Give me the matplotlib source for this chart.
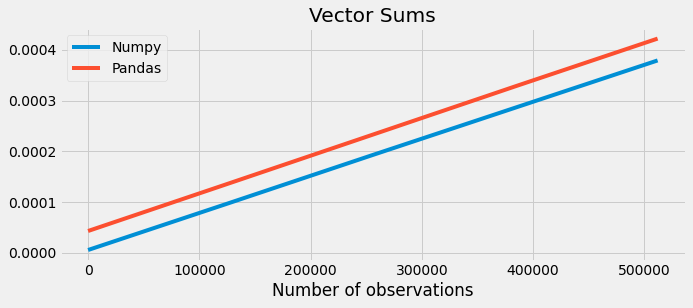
import matplotlib
matplotlib.use('Agg')
import matplotlib.pyplot as plt

# timings (seconds)
n_obs = [0, 128000, 256000, 384000, 512000]
numpy_times = [0.0000059, 0.0000992, 0.000193, 0.000286, 0.000379]
pandas_times = [0.0000433, 0.000138, 0.000233, 0.000328, 0.000422]

plt.style.use('fivethirtyeight')

fig = plt.figure(figsize=(693 / 72, 308 / 72), dpi=72)
ax = fig.add_axes([0.086, 0.154, 0.904, 0.755])

ax.plot(n_obs, numpy_times, label='Numpy')
ax.plot(n_obs, pandas_times, label='Pandas')

ax.set_title('Vector Sums')
ax.set_xlabel('Number of observations')
ax.legend(loc='upper left')

fig.savefig('out.png', dpi=72)
